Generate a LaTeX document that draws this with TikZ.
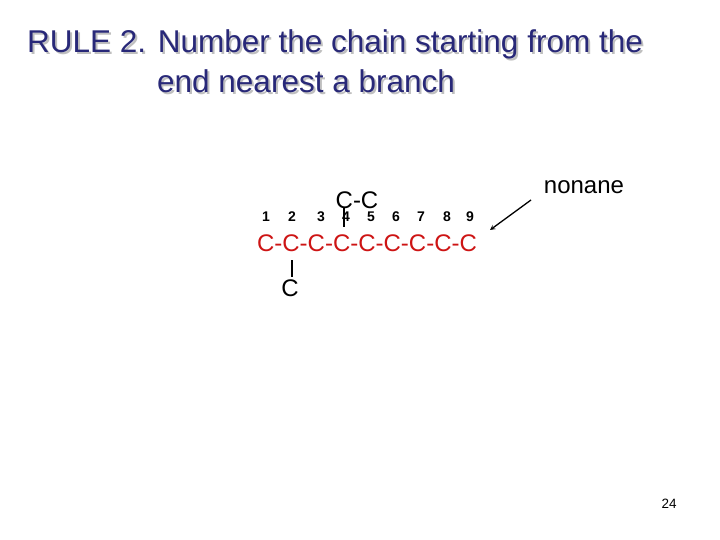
\documentclass[tikz,border=0pt]{standalone}
\usepackage{fontspec}
\setmainfont{Liberation Sans}
\begin{document}
\begin{tikzpicture}[x=1pt,y=-1pt,
  title/.style={text=navy,font=\fontsize{31.5}{34}\selectfont,anchor=west,inner sep=0pt},
  shadow/.style={text=black!25,font=\fontsize{31.5}{34}\selectfont,anchor=west,inner sep=0pt},
  num/.style={font=\bfseries\fontsize{14}{16}\selectfont,inner sep=0pt},
  atom/.style={font=\fontsize{24}{26}\selectfont,inner sep=0pt},
  bond/.style={line width=2pt}]
\definecolor{navy}{RGB}{40,40,120}
\definecolor{chainred}{RGB}{205,20,20}
\useasboundingbox (0,0) rectangle (720,540);
\node[shadow] at (29,46) {RULE 2. Number the chain starting from the};
\node[shadow] at (159,83) {end nearest a branch};
\node[title] (t1) at (27,44) {RULE 2. Number the chain starting from the};
\node[title] (t2) at (157,81) {end nearest a branch};
\foreach \i/\x in {1/266,2/292,3/321,4/346,5/371,6/396,7/421,8/447,9/470}
  \node[num] (n\i) at (\x,217) {\i};
\node[atom,text=chainred] (chain) at (367,243) {C-C-C-C-C-C-C-C-C};
\node[atom] (cc) at (357,200) {C-C};
\node[atom] (cb) at (290,288) {C};
\coordinate (u1) at (344,208);
\coordinate (u2) at (344,227);
\coordinate (d1) at (292,260);
\coordinate (d2) at (292,277);
\draw[bond] (u1) -- (u2);
\draw[bond] (d1) -- (d2);
\node[atom] (non) at (584,187) {nonane};
\coordinate (a1) at (531,200);
\coordinate (a2) at (490,230);
\draw[-stealth,line width=1.3pt] (a1) -- (a2);
\node[font=\fontsize{13.5}{15}\selectfont] (pg) at (669,504) {24};
\end{tikzpicture}
\end{document}
